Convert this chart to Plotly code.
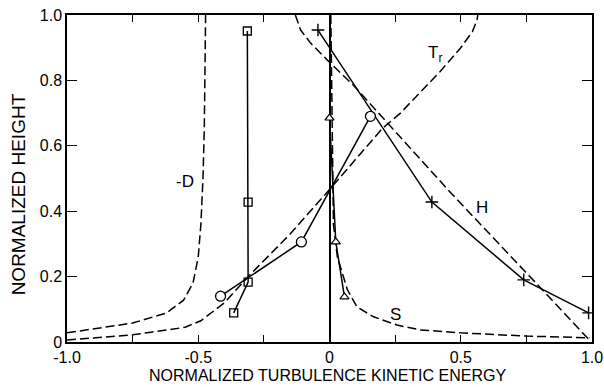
import plotly.graph_objects as go

# ---- data ----
# dashed curves
D_x = [-1.0, -0.87, -0.75, -0.62, -0.556, -0.52, -0.50, -0.49, -0.482, -0.477, -0.474, -0.472]
D_y = [0.028, 0.043, 0.058, 0.089, 0.128, 0.18, 0.26, 0.36, 0.5, 0.65, 0.8, 1.0]

S_x = [0.005, 0.008, 0.012, 0.015, 0.03, 0.068, 0.105, 0.168, 0.257, 0.345, 0.5, 0.75, 0.99]
S_y = [1.0, 0.8, 0.6, 0.36, 0.26, 0.16, 0.107, 0.077, 0.052, 0.037, 0.028, 0.018, 0.013]

Tr_x = [-1.0, -0.87, -0.75, -0.68, -0.55, -0.49, -0.4, -0.31, -0.15, 0.0, 0.2, 0.27, 0.42, 0.5, 0.545, 0.562, 0.565]
Tr_y = [0.006, 0.015, 0.022, 0.03, 0.045, 0.065, 0.12, 0.2, 0.33, 0.466, 0.652, 0.70, 0.826, 0.90, 0.95, 0.985, 1.0]

H_x = [-0.13, -0.12, -0.11, -0.072, -0.008, 0.09, 0.27, 0.46, 0.815, 0.99]
H_y = [1.0, 0.98, 0.954, 0.914, 0.862, 0.786, 0.627, 0.458, 0.156, 0.006]

# solid lines with markers
plus_x = [-0.044, 0.39, 0.74, 0.987]
plus_y = [0.954, 0.428, 0.19, 0.089]

square_x = [-0.313, -0.31, -0.31, -0.365]
square_y = [0.951, 0.428, 0.183, 0.089]

circle_x = [-0.415, -0.107, 0.156]
circle_y = [0.14, 0.306, 0.69]

tri_x = [0.0, 0.024, 0.057]
tri_y = [0.685, 0.306, 0.138]

# curve labels
label_text = ["-D", "T<sub>r</sub>", "H", "S"]
label_x = [-0.55, 0.40, 0.58, 0.25]
label_y = [0.49, 0.88, 0.41, 0.083]

# ticks
x_tickvals = [-1.0, -0.5, 0.0, 0.5, 1.0]
x_ticktext = ["-1.0", "-0.5", "0", "0.5", "1.0"]
y_tickvals = [0.0, 0.2, 0.4, 0.6, 0.8, 1.0]
y_ticktext = ["0", "0.2", "0.4", "0.6", "0.8", "1.0"]

x_title = "NORMALIZED TURBULENCE KINETIC ENERGY"
y_title = "NORMALIZED HEIGHT"

FONT = "Liberation Sans"
fig = go.Figure()

dash = "9px,4px"
for xs, ys in [(D_x, D_y), (S_x, S_y), (Tr_x, Tr_y), (H_x, H_y)]:
    fig.add_trace(go.Scatter(x=xs, y=ys, mode="lines",
                             line=dict(color="black", width=1.5, dash=dash),
                             showlegend=False, hoverinfo="skip"))

fig.add_trace(go.Scatter(x=plus_x, y=plus_y, mode="lines+markers",
                         line=dict(color="black", width=1.5),
                         marker=dict(symbol="cross-thin-open", size=9,
                                     line=dict(color="black", width=1.4)),
                         showlegend=False))
fig.add_trace(go.Scatter(x=square_x, y=square_y, mode="lines+markers",
                         line=dict(color="black", width=1.5),
                         marker=dict(symbol="square-open", size=8, color="black",
                                     line=dict(color="black", width=1.3)),
                         showlegend=False))
fig.add_trace(go.Scatter(x=circle_x, y=circle_y, mode="lines+markers",
                         line=dict(color="black", width=1.5),
                         marker=dict(symbol="circle", size=10, color="white",
                                     line=dict(color="black", width=1.3)),
                         showlegend=False))
fig.add_trace(go.Scatter(x=tri_x, y=tri_y, mode="lines+markers",
                         line=dict(color="black", width=1.5),
                         marker=dict(symbol="triangle-up", size=8, color="white",
                                     line=dict(color="black", width=1.2)),
                         showlegend=False))

for t, x, y in zip(label_text, label_x, label_y):
    fig.add_annotation(x=x, y=y, text=t, showarrow=False,
                       font=dict(family=FONT, size=17, color="black"))

# axis titles (placed as annotations to match the reference position)
fig.add_annotation(xref="paper", yref="paper", x=0.497, y=-0.101, text=x_title,
                   showarrow=False, xanchor="center", yanchor="middle",
                   font=dict(family=FONT, size=16, color="black"))
fig.add_annotation(xref="paper", yref="paper", x=-0.093, y=0.452, text=y_title,
                   showarrow=False, xanchor="center", yanchor="middle", textangle=-90,
                   font=dict(family=FONT, size=19, color="black"))

axis_common = dict(showline=True, linecolor="black", linewidth=1.5, mirror="ticks",
                   ticks="inside", tickcolor="black", showgrid=False, automargin=False,
                   tickfont=dict(family=FONT, size=16, color="black"))

fig.update_xaxes(range=[-1.0, 1.0], tickvals=x_tickvals, ticktext=x_ticktext,
                 ticklen=7, tickwidth=1.3,
                 minor=dict(dtick=0.25, tick0=0, ticks="inside", ticklen=7,
                            tickwidth=1.3, tickcolor="black", showgrid=False),
                 zeroline=True, zerolinecolor="black", zerolinewidth=1.8,
                 **axis_common)
fig.update_yaxes(range=[0.0, 1.0], tickvals=y_tickvals, ticktext=y_ticktext,
                 ticklen=10, tickwidth=1.3, zeroline=False,
                 **axis_common)

fig.update_layout(width=604, height=387,
                  margin=dict(l=67, r=12, t=15, b=45),
                  paper_bgcolor="white", plot_bgcolor="white")

fig.write_html("out.html")
